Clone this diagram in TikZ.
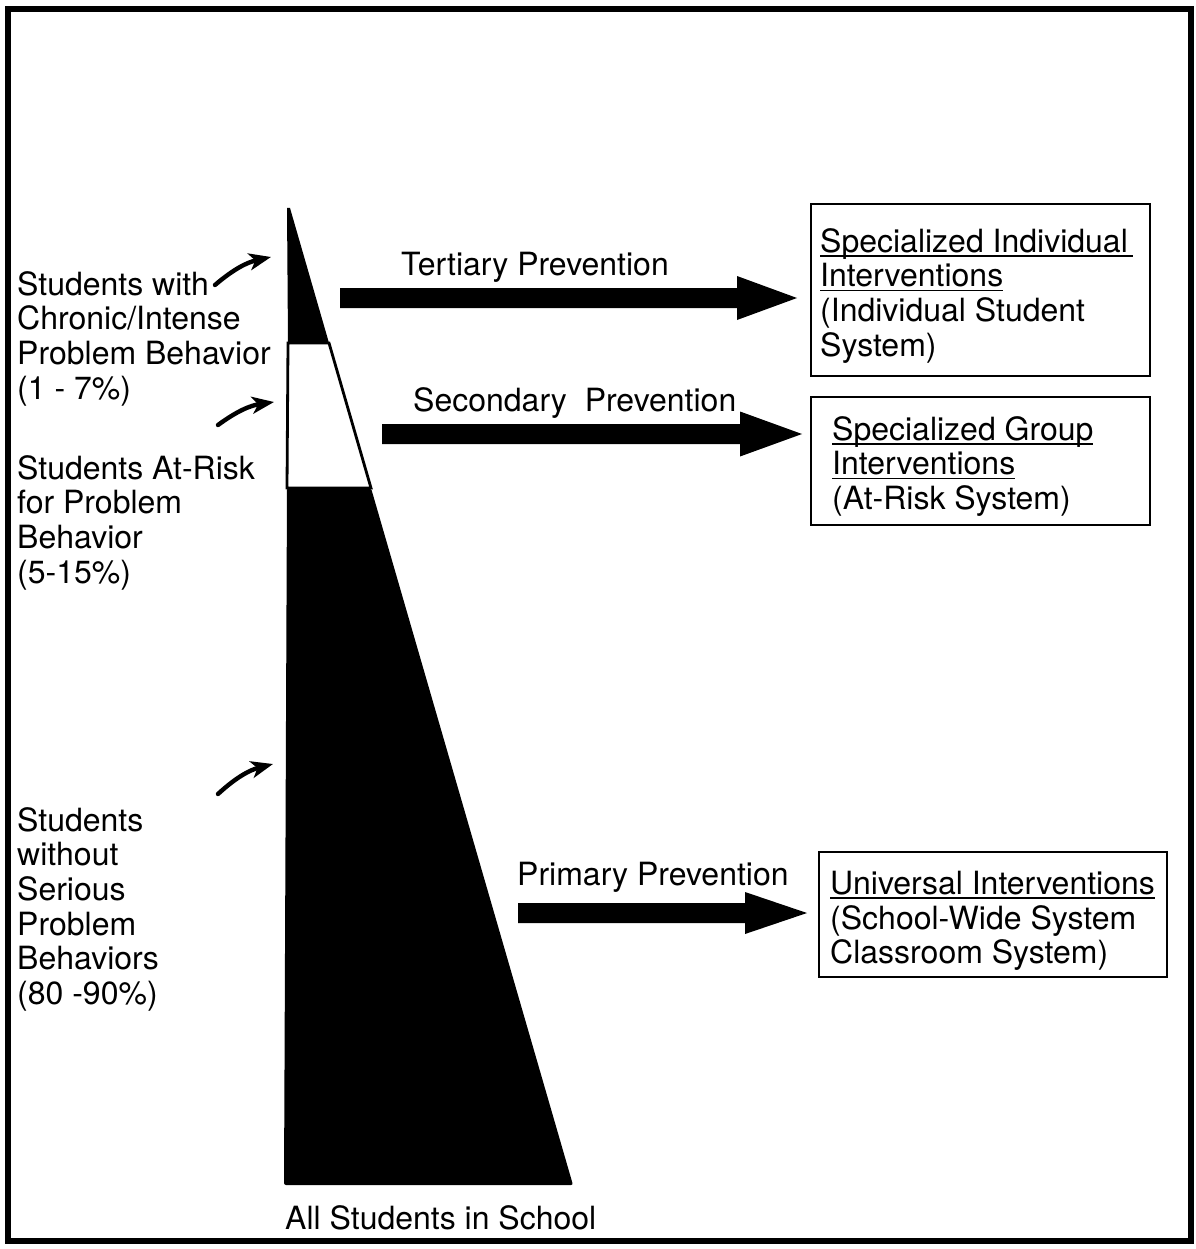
\documentclass[tikz,border=0pt]{standalone}
\usepackage{fontspec}
\setmainfont{TeX Gyre Heros}
\usetikzlibrary{arrows.meta,calc}
\newcommand\ulin[1]{\leavevmode\setbox0\hbox{#1}\rlap{\rule[-4.5pt]{\wd0}{1.6pt}}\box0}
\newcommand\bigarrow[5]{% tail, tip, head length, head half, shaft half
  \fill[black] ($(#1)+(0,-#5)$) -- ($(#2)+(-#3,-#5)$) -- ($(#2)+(-#3,-#4)$) -- (#2)
    -- ($(#2)+(-#3,#4)$) -- ($(#2)+(-#3,#5)$) -- ($(#1)+(0,#5)$) -- cycle;}
\begin{document}
\begin{tikzpicture}[x=1pt,y=-1pt,
  txt/.style={inner sep=0pt, font=\fontsize{32}{34.7}\selectfont, align=left},
  ltxt/.style={txt, anchor=north west},
  btxt/.style={txt, anchor=base west},
  box/.style={draw, line width=1.4pt, inner sep=0pt},
  curvy/.style={line width=4.4pt, line cap=round, -{Stealth[length=22pt,width=17pt,inset=6pt]}, bend left=14}]
\useasboundingbox (0,0) rectangle (1195,1249);
% outer frame
\draw[line width=6pt] (8,9) rectangle (1191,1241);

% triangle
\coordinate (apex) at (290,208);
\coordinate (bl) at (284,1185);
\coordinate (br) at (573,1185);
\coordinate (a1) at (288,343);
\coordinate (b1) at (329,343);
\coordinate (a2) at (287,488);
\coordinate (b2) at (371,488);
\fill[black] (apex) -- (b1) -- (a1) -- (287,208) -- cycle;
\draw[line width=2.8pt, line join=miter] (a1) -- (b1) -- (b2) -- (a2) -- cycle;
\fill[black, rounded corners=2pt] (a2) -- (b2) -- (br) -- (bl) -- cycle;

% left labels
\node[ltxt] (lab1) at (17,271) {Students with\\Chronic/Intense\\Problem Behavior\\(1 - 7\%)};
\node[ltxt] (lab2) at (17,455) {Students At-Risk\\for Problem\\Behavior\\(5-15\%)};
\node[ltxt] (lab3) at (17,807) {Students\\without\\Serious\\Problem\\Behaviors\\(80 -90\%)};

% small curved arrows
\coordinate (c1s) at (215,285); \coordinate (c1e) at (271,257);
\coordinate (c2s) at (218,425); \coordinate (c2e) at (274,402);
\coordinate (c3s) at (218,794); \coordinate (c3e) at (273,764);
\draw[curvy] (c1s) to (c1e);
\draw[curvy] (c2s) to (c2e);
\draw[curvy] (c3s) to (c3e);

% boxes
\node[box, minimum width=339pt, minimum height=172pt] (box1) at (980.5,290) {};
\node[box, minimum width=339pt, minimum height=128pt] (box2) at (980.5,461) {};
\node[box, minimum width=348pt, minimum height=125pt] (box3) at (993,914.5) {};
\node[ltxt] (t1) at (820,228) {\ulin{Specialized Individual\,}\\\ulin{Interventions}\\(Individual Student\\System)};
\node[ltxt] (t2) at (832,416) {\ulin{Specialized Group}\\\ulin{Interventions}\\(At-Risk System)};
\node[ltxt] (t3) at (830,871) {\ulin{Universal Interventions}\\(School-Wide System\\Classroom System)};

% big arrows
\coordinate (ta1) at (340,298); \coordinate (tp1) at (797,298);
\coordinate (ta2) at (382,434); \coordinate (tp2) at (802,434);
\coordinate (ta3) at (518,913); \coordinate (tp3) at (807,913);
\bigarrow{ta1}{tp1}{60}{22}{10}
\bigarrow{ta2}{tp2}{62}{22.5}{10}
\bigarrow{ta3}{tp3}{62}{21}{10}
\node[btxt] (p1) at (401,276) {Tertiary Prevention};
\node[btxt] (p2) at (413,411) {Secondary~~Prevention};
\node[btxt] (p3) at (517,885) {Primary Prevention};

\node[btxt] (all) at (285,1229) {All Students in School};
\end{tikzpicture}
\end{document}
